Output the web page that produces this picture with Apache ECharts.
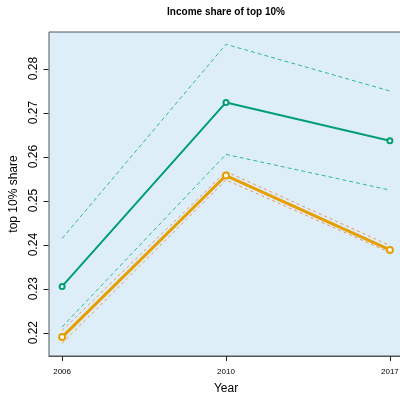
<!DOCTYPE html>
<html><head><meta charset="utf-8">
<script src="https://cdn.jsdelivr.net/npm/echarts@6/dist/echarts.min.js"></script>
<style>html,body{margin:0;padding:0;background:#fff}#c{width:400px;height:395px}</style>
</head><body><div id="c"></div>
<script>
const years = ['2006', '2010', '2017'];
const yTicks = [0.22, 0.23, 0.24, 0.25, 0.26, 0.27, 0.28];
const greenMain = [0.2305, 0.2723, 0.2636];
const greenUpper = [0.2414, 0.2855, 0.2749];
const greenLower = [0.2213, 0.2605, 0.2524];
const orangeMain = [0.2190, 0.2557, 0.2388];
const orangeUpper = [0.2205, 0.2566, 0.2398];
const orangeLower = [0.2176, 0.2547, 0.2382];

const FONT = 'Liberation Sans, Arial, Helvetica, sans-serif';
const PAD = 0.08;
const xTicks = years.map((y, i) => i + PAD);
const toXY = arr => arr.map((v, i) => [i + PAD, v]);
const dashed = (data, color, dash) => ({
  type: 'line', data: toXY(data), symbol: 'none', silent: true,
  lineStyle: { color: color, width: 1, type: dash }, z: 2
});
const chart = echarts.init(document.getElementById('c'), null, { renderer: 'canvas' });
chart.setOption({
  animation: false,
  backgroundColor: '#ffffff',
  title: {
    text: 'Income share of top 10%', left: 226, top: 7, padding: 0, textAlign: 'center',
    textStyle: { fontFamily: FONT, fontSize: 10, fontWeight: 'bold', color: '#000' }
  },
  grid: {
    left: 49, top: 32, right: -3, bottom: 39, show: true,
    containLabel: false, outerBoundsMode: 'none',
    backgroundColor: '#DDEEF8', borderColor: '#555', borderWidth: 1
  },
  xAxis: {
    type: 'value', min: 0, max: 2 + 2 * PAD, position: 'bottom',
    name: 'Year', nameLocation: 'middle', nameGap: 27,
    nameTextStyle: { fontFamily: FONT, fontSize: 12, color: '#000' },
    axisLine: { show: true, onZero: false, lineStyle: { color: '#555', width: 1 } },
    splitLine: { show: false },
    axisTick: { show: true, inside: false, length: 5, lineStyle: { color: '#222', width: 1 }, customValues: xTicks },
    axisLabel: {
      customValues: xTicks, margin: 12,
      fontFamily: FONT, fontSize: 8, color: '#000',
      formatter: v => years[Math.round(v - PAD)]
    }
  },
  yAxis: {
    type: 'value', min: 0.2147, max: 0.2883,
    name: 'top 10% share', nameLocation: 'middle', nameGap: 29, nameRotate: 90,
    nameTextStyle: { fontFamily: FONT, fontSize: 12, color: '#000' },
    axisLine: { show: false },
    splitLine: { show: false },
    axisTick: { show: false },
    axisLabel: {
      customValues: yTicks, rotate: 90, margin: 9,
      fontFamily: FONT, fontSize: 12, color: '#000',
      formatter: v => v.toFixed(2)
    }
  },
  series: [
    {
      type: 'custom', silent: true, clip: false, z: 10,
      data: yTicks.map(v => [0, v]),
      renderItem: (params, api) => {
        const p = api.coord([api.value(0), api.value(1)]);
        const x = Math.round(p[0]) - 0.5, y = Math.round(p[1]) + 0.5;
        return {
          type: 'line',
          shape: { x1: x - 5, y1: y, x2: x, y2: y },
          style: { stroke: '#222', lineWidth: 1 }
        };
      }
    },
    dashed(greenUpper, '#2DB896', [4, 3]),
    dashed(greenLower, '#2DB896', [4, 3]),
    dashed(orangeUpper, '#EE9262', [3, 3]),
    dashed(orangeLower, '#EE9262', [3, 3]),
    {
      type: 'line', data: toXY(greenMain), symbol: 'emptyCircle', symbolSize: 5,
      lineStyle: { color: '#009E73', width: 2 },
      itemStyle: { color: '#009E73', borderColor: '#009E73', borderWidth: 1.5 }, z: 3
    },
    {
      type: 'line', data: toXY(orangeMain), symbol: 'emptyCircle', symbolSize: 6,
      lineStyle: { color: '#E69F00', width: 3 },
      itemStyle: { color: '#E69F00', borderColor: '#E69F00', borderWidth: 2 }, z: 4
    }
  ]
});
</script></body></html>
